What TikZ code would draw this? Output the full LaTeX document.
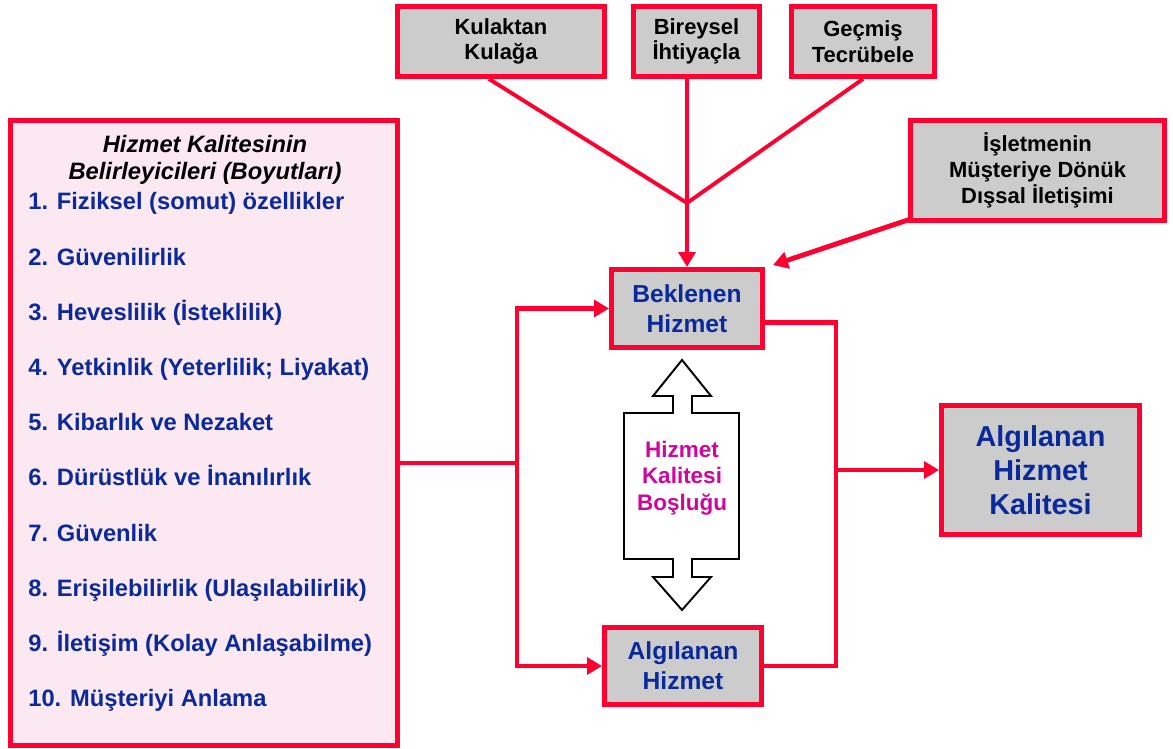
\documentclass[tikz,border=0pt]{standalone}
\usepackage{fontspec}
\setmainfont{Liberation Sans}
\usetikzlibrary{arrows.meta,positioning}
\definecolor{BoxRed}{HTML}{FF0030}
\definecolor{BoxGray}{HTML}{CCCCCC}
\definecolor{TextBlue}{HTML}{0A2A9C}
\definecolor{GapPink}{HTML}{D0069A}
\definecolor{ListBG}{HTML}{FCE8F1}

\tikzset{
  graybox/.style={draw=BoxRed,fill=BoxGray,line width=2.8pt,inner sep=0pt,align=center,font=\bfseries},
  redline/.style={draw=BoxRed,line width=2.8pt},
  thinred/.style={draw=BoxRed,line width=2.2pt},
  redarrow/.style={redline,-{Triangle[length=8.5pt,width=9.5pt]}},
  itemtext/.style={anchor=base west,inner sep=0pt,text=TextBlue,font=\bfseries\fontsize{13.5}{16}\selectfont}
}

\begin{document}
\begin{tikzpicture}[x=0.02cm,y=-0.02cm]
  \useasboundingbox (0,0) rectangle (1173,749);
  % sources of expectation
  \node[graybox,minimum width=4.14cm,minimum height=1.4cm,font=\bfseries\fontsize{12.5}{14.6}\selectfont] (kulak) at (501,41.5) {Kulaktan\\Kulağa};
  \node[graybox,minimum width=2.52cm,minimum height=1.4cm,font=\bfseries\fontsize{12.5}{14.6}\selectfont] (bireysel) at (696.5,41.5) {Bireysel\\İhtiyaçla};
  \node[graybox,minimum width=2.86cm,minimum height=1.4cm,font=\bfseries\fontsize{12.5}{14.6}\selectfont] (gecmis) at (863,41.5) {Geçmiş\\Tecrübele};
  \node[graybox,minimum width=5.08cm,minimum height=2.0cm,font=\bfseries\fontsize{12.5}{14.6}\selectfont] (isletme) at (1037.5,170.5) {İşletmenin\\Müşteriye Dönük\\Dışsal İletişimi};

  % service boxes
  \node[graybox,minimum width=3.02cm,minimum height=1.56cm,text=TextBlue,font=\bfseries\fontsize{14}{17}\selectfont] (beklenen) at (687,308.5) {Beklenen\\Hizmet};
  \node[graybox,minimum width=3.14cm,minimum height=1.54cm,text=TextBlue,font=\bfseries\fontsize{14}{17}\selectfont] (algilanan) at (683,666) {Algılanan\\Hizmet};
  \node[graybox,minimum width=3.96cm,minimum height=2.58cm,text=TextBlue,font=\bfseries\fontsize{16.4}{19.5}\selectfont] (ahk) at (1040.5,470) {Algılanan\\Hizmet\\Kalitesi};

  % dimensions list
  \node[draw=BoxRed,fill=ListBG,line width=2.8pt,minimum width=7.74cm,minimum height=12.5cm] (boyut) at (204,433) {};
  \node[align=center,inner sep=0pt,font=\bfseries\itshape\fontsize{13.5}{15.4}\selectfont] (baslik) at (205,160) {Hizmet Kalitesinin\\Belirleyicileri (Boyutları)};
  \foreach \i/\txt in {1/Fiziksel (somut) özellikler,2/Güvenilirlik,3/Heveslilik (İsteklilik),
      4/Yetkinlik (Yeterlilik; Liyakat),5/Kibarlık ve Nezaket,6/Dürüstlük ve İnanılırlık,
      7/Güvenlik,8/Erişilebilirlik (Ulaşılabilirlik),9/İletişim (Kolay Anlaşabilme),10/Müşteriyi Anlama} {
    \node[itemtext] (item\i) at (28,{210+55.2*(\i-1)}) {\i. \txt};
  }

  % gap arrow
  \draw[black,line width=1.1pt,fill=white]
    (682,360) -- (711,396) -- (692,396) -- (692,413) -- (739,413) -- (739,559) -- (692,559) -- (692,577)
    -- (711,577) -- (682,610) -- (653,577) -- (673,577) -- (673,559) -- (624,559) -- (624,413)
    -- (673,413) -- (673,396) -- (653,396) -- cycle;
  \node[align=center,inner sep=0pt,text=GapPink,font=\bfseries\fontsize{12.8}{15}\selectfont] (bosluk) at (682,478) {Hizmet\\Kalitesi\\Boşluğu};

  % connectors
  \coordinate (join) at (687,203);
  \coordinate (split) at (517,463);
  \coordinate (merge) at (836,470);
  \draw[thinred] ([xshift=-0.24cm]kulak.south) -- (join);
  \draw[thinred] (gecmis.south) -- (join);
  \draw[thinred] (bireysel.south -| join) -- (join);
  \draw[redarrow] (join) -- (beklenen.north -| join);
  \draw[redarrow] ([xshift=0.09cm,yshift=0.09cm]isletme.south west) -- ([xshift=0.16cm,yshift=0.04cm]beklenen.north east);
  \draw[redline] (boyut.east |- split) -- (split);
  \draw[redarrow] (split) |- (beklenen.west);
  \draw[redarrow] (split) |- (algilanan.west);
  \draw[redline] ([yshift=-0.28cm]beklenen.east) -| (merge);
  \draw[redline] (algilanan.east) -| (merge);
  \draw[redarrow] (merge) -- (ahk.west);
\end{tikzpicture}
\end{document}
